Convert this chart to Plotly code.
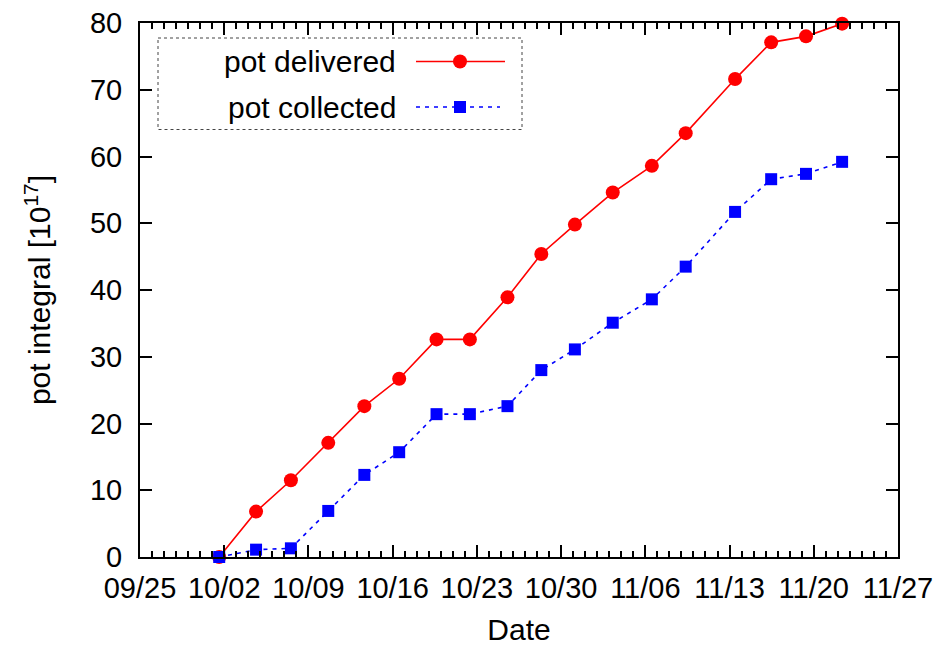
import plotly.graph_objects as go

dates = ["2010-10-01 14:00", "2010-10-04 15:30", "2010-10-07 13:00", "2010-10-10 15:30",
         "2010-10-13 15:30", "2010-10-16 13:00", "2010-10-19 15:30", "2010-10-22 10:00",
         "2010-10-25 13:00", "2010-10-28 08:30", "2010-10-31 03:30", "2010-11-03 07:00",
         "2010-11-06 13:00", "2010-11-09 08:30", "2010-11-13 11:00", "2010-11-16 11:00",
         "2010-11-19 08:30", "2010-11-22 08:30"]
pot_delivered = [0.0, 6.8, 11.5, 17.1, 22.6, 26.7, 32.6, 32.6, 38.9, 45.4,
                 49.8, 54.6, 58.6, 63.5, 71.6, 77.1, 78.0, 79.9]
pot_collected = [0.0, 1.1, 1.3, 6.9, 12.3, 15.7, 21.4, 21.4, 22.6, 28.0,
                 31.1, 35.1, 38.6, 43.5, 51.7, 56.6, 57.4, 59.2]
series_names = ["pot delivered", "pot collected"]

FONT = "Liberation Sans, Arial, Helvetica, sans-serif"
FS = 29
FT = 30
W, H = 938, 646
L, R, T, B = 140, 898, 23, 557


def px(x):
    return (x - L) / (R - L)


def py(y):
    return (B - y) / (B - T)


fig = go.Figure()
fig.add_trace(go.Scatter(
    x=dates, y=pot_delivered, mode="lines+markers", name=series_names[0],
    line=dict(color="#ff0000", width=1.6),
    marker=dict(symbol="circle", size=14, color="#ff0000"),
    showlegend=False, cliponaxis=False))
fig.add_trace(go.Scatter(
    x=dates, y=pot_collected, mode="lines+markers", name=series_names[1],
    line=dict(color="#0000ff", width=1.6, dash="4px,5px"),
    marker=dict(symbol="square", size=12, color="#0000ff"),
    showlegend=False, cliponaxis=False))

# legend samples on a hidden overlay axis measured in pixels
fig.add_trace(go.Scatter(
    x=[416, 460, 505], y=[61.5, 61.5, 61.5], xaxis="x2", yaxis="y2",
    mode="lines", line=dict(color="#ff0000", width=1.6), showlegend=False, hoverinfo="skip"))
fig.add_trace(go.Scatter(
    x=[460], y=[61.5], xaxis="x2", yaxis="y2", mode="markers",
    marker=dict(symbol="circle", size=14, color="#ff0000"), showlegend=False, hoverinfo="skip"))
fig.add_trace(go.Scatter(
    x=[416, 460, 500], y=[107, 107, 107], xaxis="x2", yaxis="y2",
    mode="lines", line=dict(color="#0000ff", width=1.6, dash="4px,5px"), showlegend=False, hoverinfo="skip"))
fig.add_trace(go.Scatter(
    x=[460], y=[107], xaxis="x2", yaxis="y2", mode="markers",
    marker=dict(symbol="square", size=12, color="#0000ff"), showlegend=False, hoverinfo="skip"))

axis_common = dict(
    showline=True, linecolor="black", linewidth=2, mirror="allticks",
    ticks="inside", tickcolor="black", tickwidth=1.5, ticklen=12,
    showgrid=False, zeroline=False, automargin=False,
    tickfont=dict(family=FONT, size=FS, color="black"),
)

fig.update_layout(
    width=W, height=H,
    margin=dict(l=L, r=W - R, t=T, b=H - B, autoexpand=False),
    paper_bgcolor="white", plot_bgcolor="white",
    font=dict(family=FONT, size=FS, color="black"),
    xaxis=dict(
        **axis_common,
        type="date", range=["2010-09-25", "2010-11-27"],
        tick0="2010-09-25", dtick=7 * 86400000, tickformat="%m/%d",
        ticklabelstandoff=4,
        minor=dict(dtick=86400000, tick0="2010-09-25", ticks="inside", ticklen=6,
                   tickcolor="black", tickwidth=1.5, showgrid=False),
        title=dict(text="Date", font=dict(family=FONT, size=FT), standoff=16),
    ),
    yaxis=dict(
        **axis_common,
        range=[0, 80], tick0=0, dtick=10,
        ticklabelstandoff=10,
        title=dict(text="pot integral [10<sup>17</sup>]", font=dict(family=FONT, size=FT), standoff=30),
    ),
    xaxis2=dict(overlaying="x", range=[L, R], visible=False, fixedrange=True),
    yaxis2=dict(overlaying="y", range=[B, T], visible=False, fixedrange=True),
    shapes=[dict(type="rect", xref="paper", yref="paper",
                 x0=px(158), x1=px(522), y0=py(38), y1=py(129.5),
                 line=dict(color="#444444", width=1, dash="dot"), fillcolor="rgba(0,0,0,0)")],
    annotations=[
        dict(text=series_names[0], xref="paper", yref="paper", x=px(398), y=py(61.5),
             xanchor="right", yanchor="middle", showarrow=False,
             font=dict(family=FONT, size=FT, color="black")),
        dict(text=series_names[1], xref="paper", yref="paper", x=px(398), y=py(107),
             xanchor="right", yanchor="middle", showarrow=False,
             font=dict(family=FONT, size=FT, color="black")),
    ],
)

fig.write_html("out.html")
